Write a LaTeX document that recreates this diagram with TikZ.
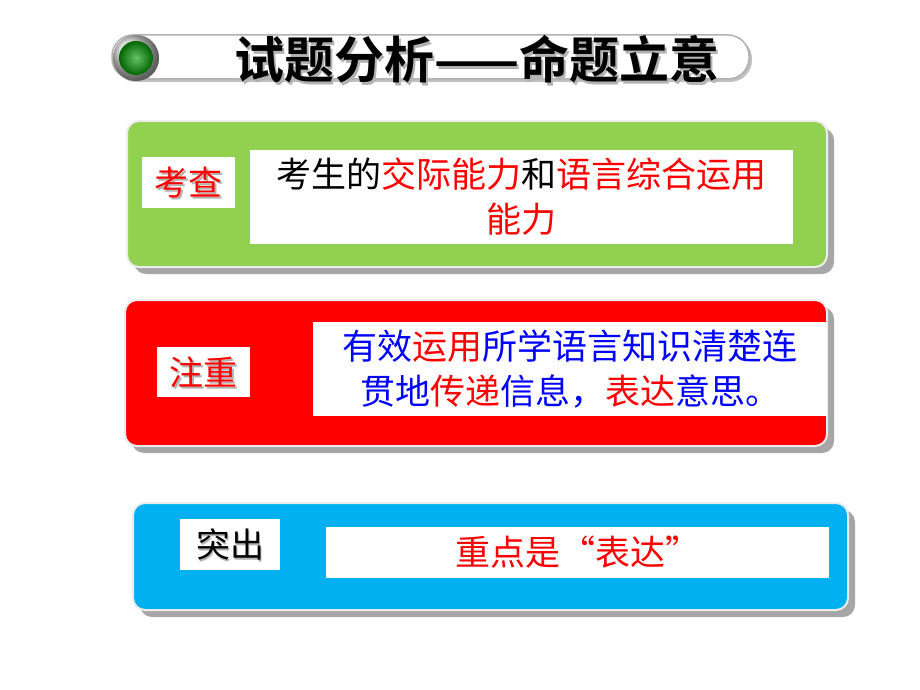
\documentclass[tikz,border=0pt]{standalone}
\usepackage{fontspec}
\newfontfamily\cjk{Noto Sans CJK SC}
\newfontfamily\cjkb{Noto Sans CJK SC Bold}
\definecolor{gbox}{HTML}{92D050}
\definecolor{rbox}{HTML}{FF0000}
\definecolor{cbox}{HTML}{00B0F0}
\definecolor{tblue}{HTML}{0000FF}
\tikzset{
 panel/.style={rounded corners=12pt,draw=white!85!gray,line width=2pt},
 shade/.style={rounded corners=12pt,fill=gray!70},
 wbox/.style={fill=white,draw=none,inner sep=0pt},
 lbl/.style={font=\cjk\fontsize{34}{38}\selectfont,text=red},
 body/.style={font=\cjk\fontsize{35}{45}\selectfont,align=center}
}
\begin{document}
\begin{tikzpicture}[x=1pt,y=-1pt]
\useasboundingbox (0,0) rectangle (920,690);
% title
\fill[gray!50,rounded corners=22pt] (114,37) rectangle (752,82);
\draw[fill=white,draw=gray!60,line width=1.5pt,rounded corners=21pt] (112,35) rectangle (749,79);
\shade[ball color=gray!30] (136,58) circle (23);
\shade[inner color=green!60!black!60,outer color=green!40!black] (136,58) circle (17);
\node[font=\cjkb\fontsize{50}{54}\selectfont,text=gray!60] (tsh) at (479,62) {试题分析——命题立意};
\node[font=\cjkb\fontsize{50}{54}\selectfont] (title) at (477,59) {试题分析——命题立意};
% box1
\fill[shade] (134,128) rectangle (834,274);
\draw[panel,fill=gbox] (127,121) rectangle (827,267);
\node[wbox,minimum width=93,minimum height=51] (l1) at (188.5,182.5) {};
\node[lbl,text=gray!60] at (190,184.5) {考查};
\node[lbl] (t1) at (188.5,182.5) {考查};
\node[wbox,minimum width=543,minimum height=94] (b1) at (521.5,197) {};
\node[body] (x1) at (521.5,197) {考生的\textcolor{red}{交际能力}和\textcolor{red}{语言综合运用}\\\textcolor{red}{能力}};
% box2
\fill[shade] (132,307) rectangle (834,453);
\draw[panel,fill=rbox] (125,300) rectangle (827,446);
\node[wbox,minimum width=93,minimum height=50] (l2) at (203.5,372) {};
\node[lbl,text=gray!60] at (205,374) {注重};
\node[lbl] (t2) at (203.5,372) {注重};
\node[wbox,minimum width=514,minimum height=94] (b2) at (570,369) {};
\node[body,text=tblue] (x2) at (570,369) {有效\textcolor{red}{运用}所学语言知识清楚连\\贯地\textcolor{red}{传递}信息，\textcolor{red}{表达}意思。};
% box3
\fill[shade] (140,510) rectangle (855,617);
\draw[panel,fill=cbox] (133,503) rectangle (848,610);
\node[wbox,minimum width=100,minimum height=51] (l3) at (230,544.5) {};
\node[lbl,text=gray!60] at (231.5,546.5) {突出};
\node[lbl,text=black] (t3) at (230,544.5) {突出};
\node[wbox,minimum width=503,minimum height=51] (b3) at (577.5,552.5) {};
\node[body,text=red] (x3) at (577.5,552.5) {重点是“表达”};
\end{tikzpicture}
\end{document}
